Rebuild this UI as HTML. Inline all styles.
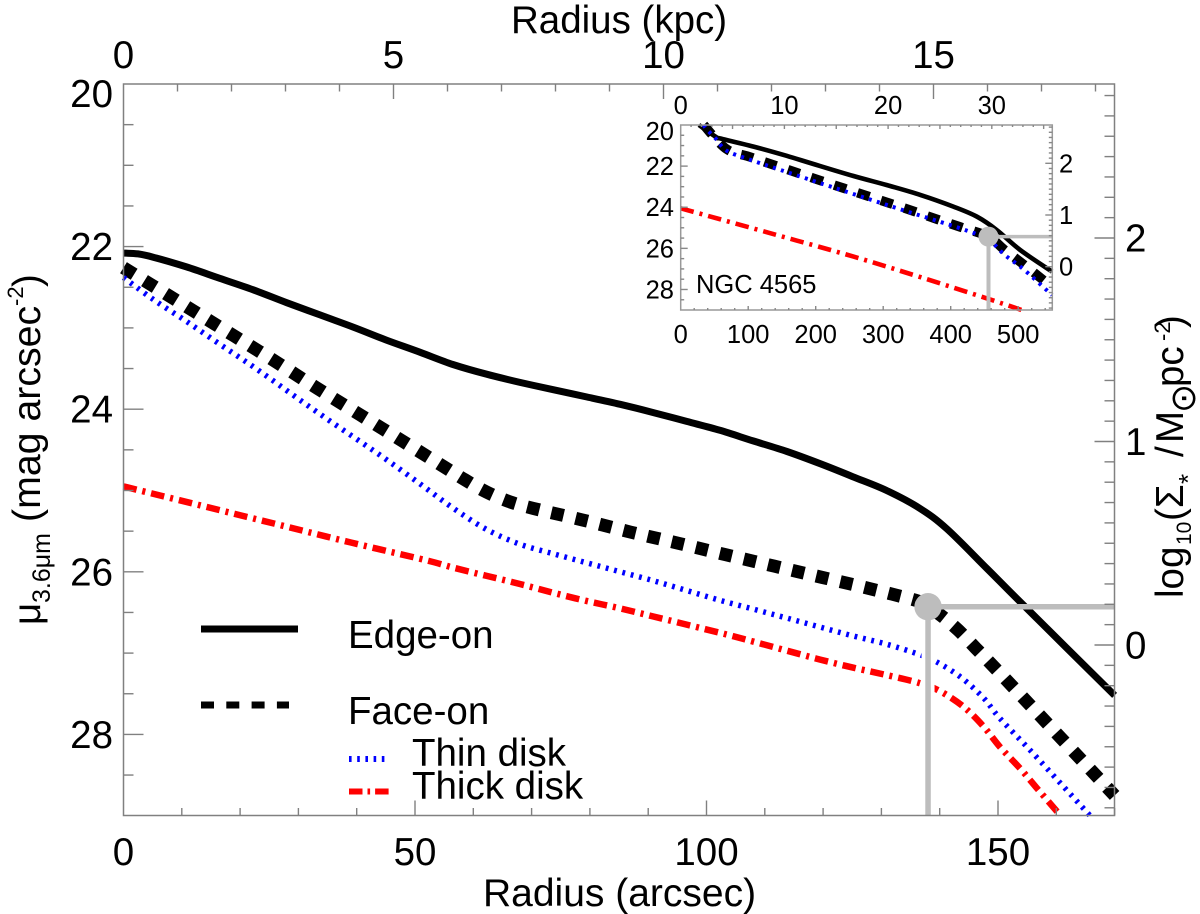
<!DOCTYPE html>
<html lang="en">
<head>
<meta charset="utf-8">
<title>Surface brightness profiles of NGC 4565</title>
<style>
html,body{margin:0;padding:0;background:#fff;width:1200px;height:914px;overflow:hidden}
svg{display:block}
text{font-family:"Liberation Sans","DejaVu Sans",sans-serif;fill:#000}
</style>
</head>
<body>
<svg id="chart" xmlns="http://www.w3.org/2000/svg" width="1200" height="914" viewBox="0 0 1200 914">
  <rect width="1200" height="914" fill="#fff"/>
  <g id="main-marks"></g>
  <g id="main-axes"></g>
  <g id="inset-marks"></g>
  <g id="inset-axes"></g>

  <text x="511" y="33" font-size="38.5">Radius (kpc)</text>
  <text x="483" y="906" font-size="39">Radius (arcsec)</text>

  <g>
    <text transform="translate(40,625) rotate(-90)" font-size="38.5">μ</text>
    <text transform="translate(50,603) rotate(-90)" font-size="25">3.6μm</text>
    <text transform="translate(40,522) rotate(-90)" font-size="39.3">(mag arcsec</text>
    <text transform="translate(23,306) rotate(-90)" font-size="22">-2</text>
    <text transform="translate(40,287) rotate(-90)" font-size="38.5">)</text>
  </g>

  <g>
    <text transform="translate(1183,598) rotate(-90)" font-size="38.5">log</text>
    <text transform="translate(1191,545) rotate(-90)" font-size="21">10</text>
    <text transform="translate(1183,521) rotate(-90)" font-size="38.5">(Σ</text>
    <text transform="translate(1197,484) rotate(-90)" font-size="26">*</text>
    <text transform="translate(1183,457) rotate(-90)" font-size="38.5">/</text>
    <text transform="translate(1183,443) rotate(-90)" font-size="38.5">M</text>
    <text transform="translate(1195,413) rotate(-90)" font-size="35" style="font-family:'DejaVu Sans',sans-serif">⊙</text>
    <text transform="translate(1183,387) rotate(-90)" font-size="38.5">pc</text>
    <text transform="translate(1170,341) rotate(-90)" font-size="22">-2</text>
    <text transform="translate(1183,328) rotate(-90)" font-size="38.5">)</text>
  </g>

  <g>
    <g>
      <line x1="201" y1="629" x2="298" y2="629" stroke="#000" stroke-width="7"/>
      <text x="348" y="648" font-size="38.5">Edge-on</text>
    </g>
    <g>
      <line x1="201" y1="705" x2="289" y2="705" stroke="#000" stroke-width="7" stroke-dasharray="13 12.3"/>
      <text x="348" y="724" font-size="38.5">Face-on</text>
    </g>
    <g>
      <line x1="349" y1="759" x2="388" y2="759" stroke="#0000ff" stroke-width="6" stroke-dasharray="2.6 5.6"/>
      <text x="412" y="766" font-size="38.5">Thin disk</text>
    </g>
    <g>
      <line x1="349" y1="791.5" x2="390" y2="791.5" stroke="#ff0000" stroke-width="6" stroke-dasharray="13.5 5 2.6 5"/>
      <text x="412" y="799" font-size="38.5">Thick disk</text>
    </g>
  </g>

  <text x="696" y="293" font-size="25.5">NGC 4565</text>
</svg>
<script>
// Main panel series: radius in arcsec, surface brightness in mag/arcsec^2
const edgeRadius = [0,2.5,5.1,10.8,16.5,22.2,28,33.7,39.4,45.1,50.9,56.5,62.3,68,73.7,79.5,85.2,90.8,96.6,102.3,108,113.8,119.5,125.1,130.9,136.6,141.2,148.1,153.8,170];
const edgeMu = [22.08,22.09,22.13,22.25,22.39,22.53,22.69,22.84,22.99,23.15,23.3,23.45,23.57,23.67,23.76,23.85,23.94,24.04,24.15,24.26,24.39,24.52,24.67,24.83,25,25.22,25.47,25.96,26.37,27.52];
const faceRadius = [0,4.55,11.75,19,26.2,33.4,40.6,47.8,55,58.6,62.3,66.3,70.3,78.6,86.9,95.2,103.3,111.6,119.9,128.2,136.3,138,140.3,143.2,146.2,152.1,170];
const faceMu = [22.26,22.46,22.78,23.1,23.42,23.75,24.07,24.39,24.71,24.87,25.02,25.14,25.22,25.36,25.51,25.65,25.79,25.93,26.07,26.21,26.36,26.43,26.54,26.72,26.94,27.38,28.75];
const thinRadius = [0,5.1,10.8,16.5,22.3,28,33.7,39.4,45.1,50.9,56.6,62.3,68,73.8,79.5,85.2,90.9,96.6,102.3,108.1,113.8,119.5,125.2,130.9,136.6,139.5,143.5,147.5,150.3,156.1,165.8];
const thinMu = [22.38,22.65,22.92,23.2,23.48,23.77,24.06,24.34,24.62,24.92,25.22,25.48,25.66,25.78,25.89,26,26.11,26.23,26.35,26.46,26.57,26.68,26.79,26.89,27.02,27.11,27.29,27.55,27.8,28.24,29];
const thickRadius = [0,13,26,39,52,56.6,62.3,68,73.8,79.5,85.2,90.9,102.3,108.1,113.8,119.5,125.2,130.9,136.6,140.1,144.1,147.5,150.3,153.8,156.9,160.4];
const thickMu = [24.95,25.18,25.41,25.64,25.86,25.95,26.05,26.15,26.26,26.36,26.45,26.55,26.75,26.86,26.97,27.08,27.18,27.27,27.37,27.47,27.66,27.9,28.15,28.42,28.68,28.97];
const breakRadius = [138];
const breakMu = [26.43];

// Inset panel series
const insetEdgeRadius = [27,53,58,108,157,206,256,305,355,404,439,468,503,550];
const insetEdgeMu = [20,20.6,20.65,21.05,21.5,21.99,22.48,22.92,23.4,23.97,24.46,25.1,26.08,27.13];
const insetFaceRadius = [34,68,104,173,242,313,383,417,456,480,509,550];
const insetFaceMu = [20,21.17,21.57,22.33,23.08,23.84,24.62,24.99,25.43,26.08,26.81,27.88];
const insetThinRadius = [34,38.5,53,68,104,173,313,417,456,480,509,550];
const insetThinMu = [20,20.21,20.7,21.25,21.7,22.46,23.97,25.06,25.59,26.32,27.05,28.27];
const insetThickRadius = [0,128,256,355,453,505];
const insetThickMu = [24.05,25.22,26.4,27.4,28.43,29];
const insetBreakRadius = [456];
const insetBreakMu = [25.43];

// Tick labels
const bottomTicks = [0,50,100,150];
const topTicks = [0,5,10,15];
const leftTicks = [20,22,24,26,28];
const rightTicks = [0,1,2];
const insetBottomTicks = [0,100,200,300,400,500];
const insetTopTicks = [0,10,20,30];
const insetLeftTicks = [20,22,24,26,28];
const insetRightTicks = [0,1,2];

const SVG_NS = 'http://www.w3.org/2000/svg';

// Axis functions, main panel
const mainX = r => 123.5 + r * 5.83;
const mainY = m => 84 + (m - 20) * 81.3;
const mainTopX = k => 123.5 + k * 54;
const mainRightY = v => 645 - v * 203.5;
// Axis functions, inset panel
const insetX = r => 680.7 + r * 0.675;
const insetY = m => 125 + (m - 20) * 20.56;
const insetTopX = k => 680.7 + k * 10.37;
const insetRightY = v => 266.7 - v * 51.7;

function svgEl(tag, parent) {
  const el = document.createElementNS(SVG_NS, tag);
  parent.appendChild(el);
  return el;
}
function drawCurve(parent, xs, ys, fx, fy, color, width, dash) {
  const pts = xs.map((r, i) => [fx(r), fy(ys[i])]);
  let d = 'M' + pts[0][0].toFixed(1) + ' ' + pts[0][1].toFixed(1);
  for (let i = 0; i < pts.length - 1; i += 1) {
    const p0 = pts[Math.max(i - 1, 0)];
    const p1 = pts[i];
    const p2 = pts[i + 1];
    const p3 = pts[Math.min(i + 2, pts.length - 1)];
    const c1x = p1[0] + (p2[0] - p0[0]) / 6;
    const c1y = p1[1] + (p2[1] - p0[1]) / 6;
    const c2x = p2[0] - (p3[0] - p1[0]) / 6;
    const c2y = p2[1] - (p3[1] - p1[1]) / 6;
    d += 'C' + c1x.toFixed(1) + ' ' + c1y.toFixed(1) + ' ' + c2x.toFixed(1) + ' ' + c2y.toFixed(1) + ' ' + p2[0].toFixed(1) + ' ' + p2[1].toFixed(1);
  }
  const el = svgEl('path', parent);
  el.setAttribute('d', d);
  el.setAttribute('fill', 'none');
  el.setAttribute('stroke', color);
  el.setAttribute('stroke-width', width);
  el.setAttribute('stroke-linejoin', 'round');
  if (dash) el.setAttribute('stroke-dasharray', dash);
  return el;
}
function drawTick(parent, x1, y1, x2, y2, color) {
  const el = svgEl('line', parent);
  el.setAttribute('x1', x1);
  el.setAttribute('y1', y1);
  el.setAttribute('x2', x2);
  el.setAttribute('y2', y2);
  el.setAttribute('stroke', color);
  el.setAttribute('stroke-width', '1.4');
  return el;
}
function drawLabel(parent, x, y, str, size, anchor) {
  const el = svgEl('text', parent);
  el.setAttribute('x', x);
  el.setAttribute('y', y);
  el.setAttribute('font-size', size);
  el.setAttribute('text-anchor', anchor);
  el.textContent = str;
  return el;
}
function drawFrame(parent, x1, y1, x2, y2, color) {
  const el = svgEl('rect', parent);
  el.setAttribute('x', x1);
  el.setAttribute('y', y1);
  el.setAttribute('width', x2 - x1);
  el.setAttribute('height', y2 - y1);
  el.setAttribute('fill', 'none');
  el.setAttribute('stroke', color);
  el.setAttribute('stroke-width', '1.5');
  return el;
}

/* ---------- main series ---------- */
const mm = document.getElementById('main-marks');
const mEdge = drawCurve(mm, edgeRadius, edgeMu, mainX, mainY, '#000', 7);


const mFace = drawCurve(mm, faceRadius, faceMu, mainX, mainY, '#000', 13, '12.5 12.25');


const mThin = drawCurve(mm, thinRadius, thinMu, mainX, mainY, '#0000ff', 5.5, '2.8 5.8');


const mThick = drawCurve(mm, thickRadius, thickMu, mainX, mainY, '#ff0000', 6.5, '13.5 6 3 6');



const bx = mainX(breakRadius[0]);
const by = mainY(breakMu[0]);
const mHalo = drawTick(mm, bx, by + 35, bx, 815, '#fff');
mHalo.setAttribute('stroke-width', '13');


const mV = drawTick(mm, bx, by, bx, 815, '#bdbdbd');
mV.setAttribute('stroke-width', '5.5');


const mH = drawTick(mm, bx, by, 1114, by, '#bdbdbd');
mH.setAttribute('stroke-width', '5.5');


const mC = svgEl('circle', mm);
mC.setAttribute('cx', bx);
mC.setAttribute('cy', by);
mC.setAttribute('r', '13.7');
mC.setAttribute('fill', '#bdbdbd');



/* ---------- main axes ---------- */
const ma = document.getElementById('main-axes');
const mFrame = drawFrame(ma, 123.5, 84, 1114.5, 815.5, '#808080');


const AXC = '#808080';
for (let r = 10; r <= 170; r += 10) {
  const major = r % 50 === 0;
  const t = drawTick(ma, mainX(r), 815.5, mainX(r), 815.5 - (major ? 15 : 7.5), AXC);
  
  
}
for (let k = 1; k <= 18; k += 1) {
  const major = k % 5 === 0;
  const t = drawTick(ma, mainTopX(k), 84, mainTopX(k), 84 + (major ? 15 : 7.5), AXC);
  
  
}
for (let i = 1; i < 18; i += 1) {
  const m = 20 + i * 0.5;
  const major = i % 4 === 0;
  const t = drawTick(ma, 123.5, mainY(m), 123.5 + (major ? 20 : 10), mainY(m), AXC);
  
  
}
for (let i = -8; i <= 27; i += 1) {
  const v = i / 10;
  const major = i % 10 === 0;
  const t = drawTick(ma, 1114.5, mainRightY(v), 1114.5 - (major ? 20 : 10), mainRightY(v), AXC);
  
  
}
bottomTicks.forEach(v => {
  const l = drawLabel(ma, mainX(v), 865, String(v), 38.5, 'middle');
  
  
});
topTicks.forEach(v => {
  const l = drawLabel(ma, mainTopX(v), 68, String(v), 38.5, 'middle');
  
  
});
leftTicks.forEach(v => {
  const l = drawLabel(ma, 113, Math.max(mainY(v) + 13.5, 107), String(v), 38.5, 'end');
  
  
});
rightTicks.forEach(v => {
  const l = drawLabel(ma, 1125, mainRightY(v) + 13.5, String(v), 38.5, 'start');
  
  
});

/* ---------- inset series ---------- */
const im = document.getElementById('inset-marks');
const iEdge = drawCurve(im, insetEdgeRadius, insetEdgeMu, insetX, insetY, '#000', 4.6);


const iFace = drawCurve(im, insetFaceRadius, insetFaceMu, insetX, insetY, '#000', 9.5, '12.5 12');


const iThin = drawCurve(im, insetThinRadius, insetThinMu, insetX, insetY, '#0000ff', 4, '3 5.4');


const iThick = drawCurve(im, insetThickRadius, insetThickMu, insetX, insetY, '#ff0000', 4.6, '13.5 6 3 6');



const ibx = insetX(insetBreakRadius[0]);
const iby = insetY(insetBreakMu[0]);
const iV = drawTick(im, ibx, iby, ibx, 310, '#bdbdbd');
iV.setAttribute('stroke-width', '4');


const iH = drawTick(im, ibx, iby, 1052, iby, '#bdbdbd');
iH.setAttribute('stroke-width', '3.5');


const iC = svgEl('circle', im);
iC.setAttribute('cx', ibx);
iC.setAttribute('cy', iby);
iC.setAttribute('r', '10');
iC.setAttribute('fill', '#bdbdbd');



/* ---------- inset axes ---------- */
const ia = document.getElementById('inset-axes');
const iFrame = drawFrame(ia, 680.7, 125, 1052.3, 310, '#999');


const IAC = '#888';
for (let r = 20; r <= 540; r += 20) {
  const major = r % 100 === 0;
  const t = drawTick(ia, insetX(r), 310, insetX(r), 310 - (major ? 4 : 2), IAC);
  
  
}
for (let k = 1; k <= 35; k += 1) {
  const major = k % 5 === 0;
  const t = drawTick(ia, insetTopX(k), 125, insetTopX(k), 125 + (major ? 4 : 2), IAC);
  
  
}
for (let i = 1; i < 18; i += 1) {
  const m = 20 + i * 0.5;
  const major = i % 4 === 0;
  const t = drawTick(ia, 680.7, insetY(m), 680.7 + (major ? 7 : 3.5), insetY(m), IAC);
  
  
}
for (let i = -8; i <= 27; i += 1) {
  const v = i / 10;
  const major = i % 10 === 0;
  const t = drawTick(ia, 1052.3, insetRightY(v), 1052.3 - (major ? 7 : 3.5), insetRightY(v), IAC);
  
  
}
insetBottomTicks.forEach(v => {
  const l = drawLabel(ia, insetX(v), 343, String(v), 25.5, 'middle');
  
  
});
insetTopTicks.forEach(v => {
  const l = drawLabel(ia, insetTopX(v), 114, String(v), 25.5, 'middle');
  
  
});
insetLeftTicks.forEach(v => {
  const l = drawLabel(ia, 674, Math.max(insetY(v) + 9, 140), String(v), 25.5, 'end');
  
  
});
insetRightTicks.forEach(v => {
  const l = drawLabel(ia, 1059, insetRightY(v) + 9, String(v), 25.5, 'start');
  
  
});
</script>
</body>
</html>
